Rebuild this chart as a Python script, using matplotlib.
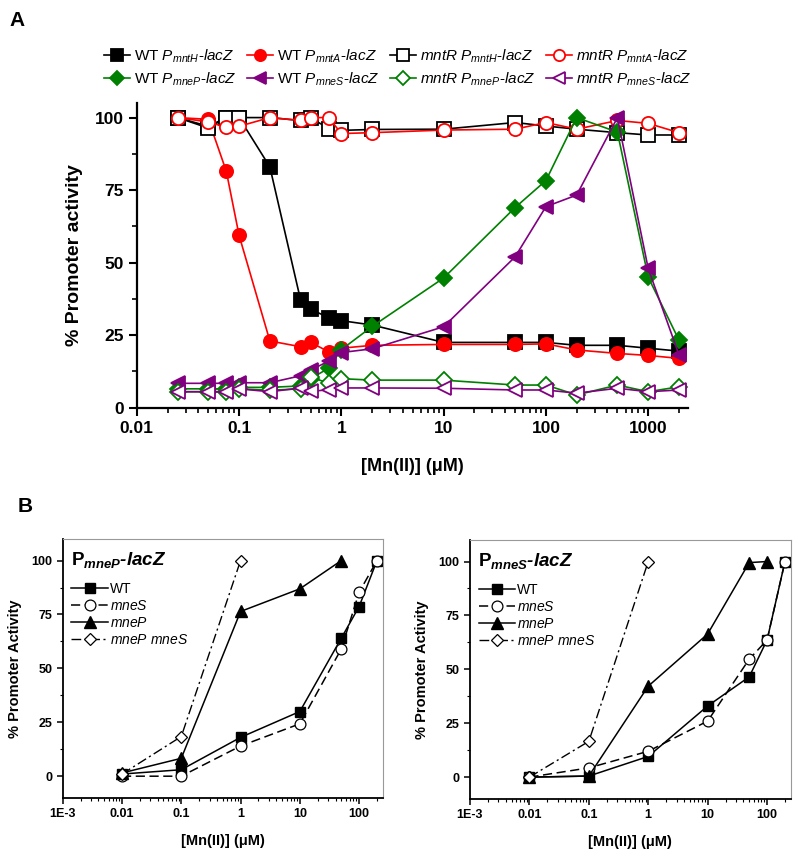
import matplotlib
matplotlib.use('Agg')
import matplotlib.pyplot as plt
import numpy as np
from matplotlib.ticker import LogLocator, MultipleLocator, NullFormatter

matplotlib.rcParams['font.family'] = ['Liberation Sans', 'DejaVu Sans']
matplotlib.rcParams['mathtext.fontset'] = 'custom'
matplotlib.rcParams['mathtext.rm'] = 'Liberation Sans'
matplotlib.rcParams['mathtext.it'] = 'Liberation Sans:italic'
matplotlib.rcParams['mathtext.bf'] = 'Liberation Sans:bold'
matplotlib.rcParams['mathtext.bfit'] = 'Liberation Sans:bold:italic'

# ---- panel A data ----
mn_a = [0.025, 0.05, 0.075, 0.1, 0.2, 0.4, 0.5, 0.75, 1, 2, 10, 50, 100, 200, 500, 1000, 2000]
wt_mntH = [100, 97, 100, 100, 83, 37, 34, 31, 30, 28.5, 22.5, 22.5, 22.5, 21.5, 21.5, 20.5, 19.5]
wt_mntA = [100, 99.4, 81.5, 59.4, 23, 21, 22.5, 19.3, 20.5, 21.5, 21.8, 21.8, 22, 19.9, 18.7, 18, 17]
mntR_mntH = [100, 96.4, 100, 100, 100, 99, 100, 96.2, 95.6, 95.9, 96, 98.3, 97.1, 96, 94.8, 94, 94]
mntR_mntA = [100, 98.5, 96.6, 97, 100, 99, 100, 100, 94.5, 94.8, 95.7, 96, 98.3, 96, 99, 98, 94.8]
wt_mneP = [6.5, 6.5, 6.5, 7, 7, 7.5, 10, 13.6, 20, 28, 44.7, 69, 78.3, 100, 95, 45, 23.3]
wt_mneS = [8.4, 8.4, 8.4, 8.6, 8.6, 11, 13, 16, 19, 20.3, 27.9, 52, 69.3, 73.3, 100, 48, 18.2]
mntR_mneP = [5.5, 5.5, 5.5, 6.5, 6, 6.5, 10.5, 8.5, 10, 9.5, 9.5, 7.8, 7.8, 4.4, 7.8, 5.5, 7.2]
mntR_mneS = [5.5, 5.5, 5.5, 6.5, 5.5, 6.8, 5.6, 6.2, 6.8, 6.8, 6.7, 6.1, 6.1, 5, 6.7, 5.5, 6.1]

# ---- panel B data ----
mn_b = [0.01, 0.1, 1, 10, 50, 100, 200]
mneP_wt = [1, 3, 18, 30, 64, 78.7, 100]
mneP_mneS = [0, 0, 14, 24.3, 59, 85.3, 100]
mneP_mneP = [1.5, 8.3, 76.4, 86.9, 100]
mneP_dbl = [1, 18.4, 100]

mneS_wt = [0, 0.5, 9.6, 33, 46.5, 63.6, 100]
mneS_mneS = [0, 4.3, 12, 26, 54.7, 63.6, 100]
mneS_mneP = [0, 0.5, 42.2, 66.4, 99.5, 100]
mneS_dbl = [0, 16.6, 100]

fig = plt.figure(figsize=(8, 8.59), dpi=100)

# ================= panel A =================
axA = fig.add_axes([0.171, 0.5254, 0.689, 0.3546])
ms = 9.5
lw = 1.2
series = [
    (mn_a, wt_mntH, 'black', 's', True, 'WT $P_{mntH}$-$lacZ$'),
    (mn_a, wt_mntA, 'red', 'o', True, 'WT $P_{mntA}$-$lacZ$'),
    (mn_a, mntR_mntH, 'black', 's', False, '$mntR$ $P_{mntH}$-$lacZ$'),
    (mn_a, mntR_mntA, 'red', 'o', False, '$mntR$ $P_{mntA}$-$lacZ$'),
    (mn_a, wt_mneP, 'green', 'D', True, 'WT $P_{mneP}$-$lacZ$'),
    (mn_a, wt_mneS, 'purple', '<', True, 'WT $P_{mneS}$-$lacZ$'),
    (mn_a, mntR_mneP, 'green', 'D', False, '$mntR$ $P_{mneP}$-$lacZ$'),
    (mn_a, mntR_mneS, 'purple', '<', False, '$mntR$ $P_{mneS}$-$lacZ$'),
]
handles = []
for x, y, c, m, filled, lab in series:
    size = ms * 0.85 if m == 'D' else ms
    h, = axA.plot(x, y, color=c, marker=m, ms=size, lw=lw,
                  mfc=c if filled else 'white', mec=c, mew=1.3, label=lab)
    handles.append(h)

axA.set_xscale('log')
axA.set_xlim(0.01, 2450)
axA.set_ylim(0, 105)
axA.set_xticks([0.01, 0.1, 1, 10, 100, 1000])
axA.set_xticklabels(['0.01', '0.1', '1', '10', '100', '1000'])
axA.xaxis.set_minor_locator(LogLocator(base=10, subs=np.arange(2, 10), numticks=20))
axA.xaxis.set_minor_formatter(NullFormatter())
axA.set_yticks([0, 25, 50, 75, 100])
axA.yaxis.set_minor_locator(MultipleLocator(12.5))
for s in ['top', 'right']:
    axA.spines[s].set_visible(False)
for s in ['left', 'bottom']:
    axA.spines[s].set_linewidth(1.6)
axA.tick_params(which='major', direction='out', length=6, width=1.5, labelsize=12.5)
axA.tick_params(which='minor', direction='out', length=3.5, width=1.2)
for lbl in axA.get_xticklabels() + axA.get_yticklabels():
    lbl.set_fontweight('bold')
axA.set_ylabel('% Promoter activity', fontsize=14, fontweight='bold', labelpad=8)
axA.set_xlabel('[Mn(II)] (\u03bcM)', fontsize=13, fontweight='bold', labelpad=16)

# legend fills column by column, so reorder to get the two rows right
order = [0, 4, 1, 5, 2, 6, 3, 7]
fig.legend(handles=[handles[i] for i in order], loc='center', bbox_to_anchor=(0.497, 0.921), ncol=4,
           frameon=False, fontsize=11, markerscale=0.85,
           handlelength=1.7, handletextpad=0.25,
           columnspacing=0.7, labelspacing=0.35, borderaxespad=0)
fig.text(0.012, 0.976, 'A', fontsize=15, fontweight='bold', va='center')

# ================= panel B =================
def panelB(rect, wt, mneS, mneP, dbl, title):
    ax = fig.add_axes(rect)
    bms = 7.2
    ax.plot(mn_b[:len(wt)], wt, color='black', ls='-', lw=1.1, marker='s', ms=bms,
            mfc='black', mec='black', label='WT')
    ax.plot(mn_b[:len(mneS)], mneS, color='black', ls=(0, (6, 3)), lw=1.1, marker='o', ms=bms + 0.6,
            mfc='white', mec='black', mew=0.9, label='$mneS$')
    ax.plot(mn_b[:len(mneP)], mneP, color='black', ls='-', lw=1.1, marker='^', ms=bms + 1,
            mfc='black', mec='black', label='$mneP$')
    ax.plot(mn_b[:len(dbl)], dbl, color='black', ls=(0, (7, 2.5, 1.5, 2.5)), lw=1.0, marker='D',
            ms=bms - 0.8, mfc='white', mec='black', mew=0.9, label='$mneP$ $mneS$')
    ax.set_xscale('log')
    ax.set_xlim(1e-3, 250)
    ax.set_ylim(-10, 110)
    ax.set_xticks([1e-3, 0.01, 0.1, 1, 10, 100])
    ax.set_xticklabels(['1E-3', '0.01', '0.1', '1', '10', '100'])
    ax.xaxis.set_minor_locator(LogLocator(base=10, subs=np.arange(2, 10), numticks=20))
    ax.xaxis.set_minor_formatter(NullFormatter())
    ax.set_yticks([0, 25, 50, 75, 100])
    ax.yaxis.set_minor_locator(MultipleLocator(12.5))
    for s in ['top', 'right']:
        ax.spines[s].set_color('#999999')
        ax.spines[s].set_linewidth(0.8)
    for s in ['left', 'bottom']:
        ax.spines[s].set_linewidth(1.3)
    ax.tick_params(which='major', direction='out', length=4, width=1.1, labelsize=9)
    ax.tick_params(which='minor', direction='out', length=2.2, width=0.8)
    for lbl in ax.get_xticklabels() + ax.get_yticklabels():
        lbl.set_fontweight('bold')
    ax.set_ylabel('% Promoter Activity', fontsize=10.5, fontweight='bold', labelpad=7)
    ax.set_xlabel('[Mn(II)] (\u03bcM)', fontsize=10.5, fontweight='bold', labelpad=10)
    ax.text(0.025, 0.9, title, transform=ax.transAxes, fontsize=13.5, fontweight='bold',
            fontstyle='italic', va='baseline', ha='left')
    ax.legend(loc='upper left', bbox_to_anchor=(0.01, 0.855), frameon=False, fontsize=10,
              handlelength=2.6, handletextpad=0.15, labelspacing=0.22, borderaxespad=0)
    return ax

panelB([0.0784, 0.0713, 0.4, 0.3012], mneP_wt, mneP_mneS, mneP_mneP, mneP_dbl,
       '$\\mathbf{P}_{\\mathbfit{mneP}}$-lacZ')
panelB([0.5875, 0.0702, 0.4009, 0.3012], mneS_wt, mneS_mneS, mneS_mneP, mneS_dbl,
       '$\\mathbf{P}_{\\mathbfit{mneS}}$-lacZ')
fig.text(0.022, 0.41, 'B', fontsize=15, fontweight='bold', va='center')

fig.savefig('out.png', dpi=100)
